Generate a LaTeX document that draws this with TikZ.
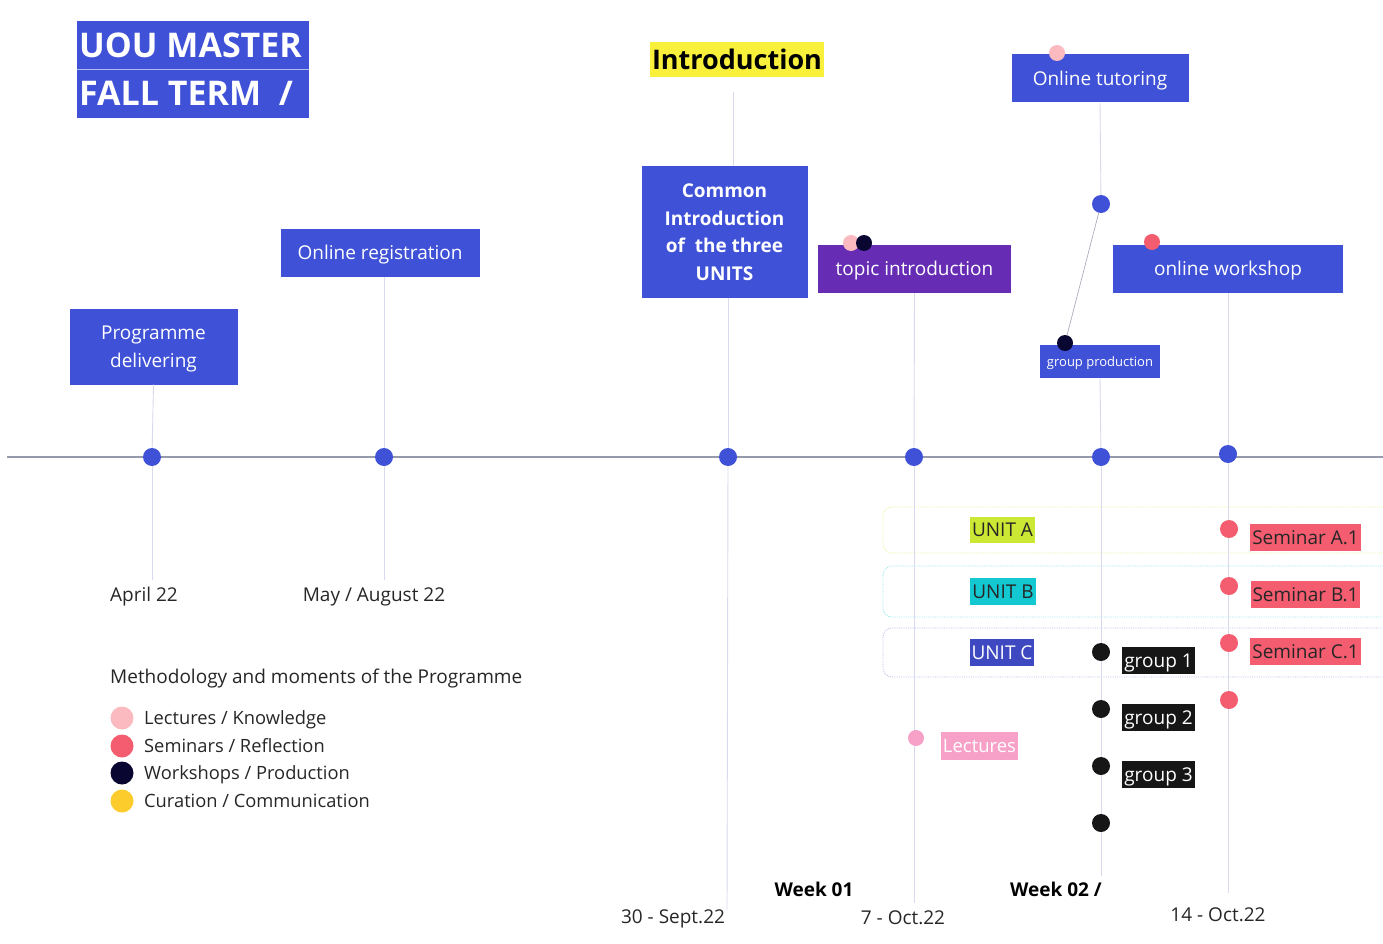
\documentclass[tikz,border=0pt]{standalone}
\usepackage{fontspec}
\setmainfont{Open Sans}
\definecolor{uoublue}{RGB}{63,81,214}
\definecolor{uoupurple}{RGB}{102,44,180}
\definecolor{introyellow}{RGB}{248,240,58}
\definecolor{axisgray}{RGB}{150,152,172}
\definecolor{vlinec}{RGB}{214,218,236}
\definecolor{lightpink}{RGB}{250,186,192}
\definecolor{semred}{RGB}{244,92,112}
\definecolor{navy}{RGB}{10,6,50}
\definecolor{curyellow}{RGB}{252,204,44}
\definecolor{lecpink}{RGB}{247,160,200}
\definecolor{unitAc}{RGB}{205,232,52}
\definecolor{unitBc}{RGB}{20,200,210}
\definecolor{unitCc}{RGB}{62,72,192}
\definecolor{darktext}{RGB}{38,38,38}
\definecolor{groupblack}{RGB}{22,22,22}
\begin{document}
\begin{tikzpicture}[x=1pt,y=-1pt,
  font=\fontsize{19}{23}\selectfont,
  ctext/.style={text height={0.95*#1 pt}, text depth={0.236*#1 pt}},
  ctext/.default=19,
  box/.style={fill=uoublue, text=white, inner sep=0pt, align=center},
  vline/.style={draw=vlinec, line width=0.9pt},
  dot/.style={circle, inner sep=0pt, minimum size=18pt},
  ldot/.style={circle, inner sep=0pt, minimum size=23pt},
  tag/.style={ctext, inner sep=2pt, minimum height=27pt},
  lbl/.style={ctext, text=darktext, inner sep=0pt},
  leg/.style={lbl, anchor=west, font=\fontsize{18.3}{22}\selectfont},
  unitbox/.style={rounded corners=9pt, densely dotted, line width=0.8pt}]
\useasboundingbox (0,0) rectangle (1383,944);

% title
\node[box, minimum width=232, minimum height=48] (title1) at (193,45) {};
\node[box, minimum width=232, minimum height=49] (title2) at (193,93.5) {};
\draw[draw=white!60!uoublue, line width=0.8pt] (title1.south west) -- (title1.south east);
\node[ctext=34, anchor=west, text=white, inner sep=0pt, font=\fontsize{34}{40}\bfseries] (t1) at (79,45) {UOU MASTER};
\node[ctext=34, anchor=west, text=white, inner sep=0pt, font=\fontsize{34}{40}\bfseries] (t2) at (79,93) {FALL TERM~~/};

% axis
\coordinate (axl) at (7,457);
\coordinate (axr) at (1383,457);
\draw[draw=axisgray, line width=1.2pt] (axl) -- (axr);

% unit bands
\draw[unitbox, draw=unitAc!50] (883,507) rectangle (1400,553);
\draw[unitbox, draw=unitBc!45] (883,566) rectangle (1400,617);
\draw[unitbox, draw=unitCc!35] (883,628) rectangle (1400,677);

% boxes
\node[box, minimum width=168, minimum height=76] (prog) at (153.5,346.5) {};
\node[box, fill=none, font=\fontsize{19}{28}\selectfont] (progt) at (153.5,349) {Programme\\delivering};
\node[box, ctext, minimum width=199, minimum height=48] (reg) at (380,253) {Online registration};
\node[ctext=27, fill=introyellow, inner sep=0pt, minimum width=174, minimum height=35, font=\fontsize{27}{30}\bfseries] (intro) at (737,59.5) {Introduction};
\node[box, minimum width=166, minimum height=131, font=\fontsize{19}{27.5}\bfseries] (common) at (724.5,232) {Common\\Introduction\\of~ the three\\UNITS};
\node[box, ctext, fill=uoupurple, minimum width=193, minimum height=48] (topic) at (914.5,269) {topic introduction};
\node[box, ctext, minimum width=177, minimum height=48] (tutor) at (1100,78.5) {Online tutoring};
\node[box, ctext, minimum width=230, minimum height=48] (work) at (1228,269) {online workshop};
\node[box, ctext=13, minimum width=120, minimum height=33, font=\fontsize{13}{15}\selectfont] (gprod) at (1100,361.5) {group production};

% axis dots
\node[dot, fill=uoublue] (d1) at (152,457) {};
\node[dot, fill=uoublue] (d2) at (384,457) {};
\node[dot, fill=uoublue] (d3) at (728,457) {};
\node[dot, fill=uoublue] (d4) at (914,457) {};
\node[dot, fill=uoublue] (d5) at (1101,457) {};
\node[dot, fill=uoublue] (d6) at (1228,454) {};
\node[dot, fill=uoublue] (dt) at (1101,204) {};

% free ends of vertical lines
\coordinate (e1) at (152,580);
\coordinate (e2) at (384,580);
\coordinate (e3) at (727,910);
\coordinate (e4) at (914,903);
\coordinate (e5) at (1101,876);
\coordinate (e6) at (1228,893);
\coordinate (i1) at (733,92);

% vertical lines
\draw[vline] (prog.south) -- (d1);
\draw[vline] (d1) -- (e1);
\draw[vline] (reg.south -| d2) -- (d2);
\draw[vline] (d2) -- (e2);
\draw[vline] (i1) -- (common.north -| i1);
\draw[vline] (common.south -| d3) -- (d3);
\draw[vline] (d3) -- (e3);
\draw[vline] (topic.south) -- (d4);
\draw[vline] (d4) -- (e4);
\draw[vline] (tutor.south) -- (dt);
\draw[vline] (gprod.south) -- (d5);
\draw[vline] (d5) -- (e5);
\draw[vline] (work.south) -- (d6);
\draw[vline] (d6) -- (e6);

% small dots on boxes
\node[dot, minimum size=16pt, fill=lightpink] (tp1) at (851,243) {};
\node[dot, minimum size=16pt, fill=navy] (tp2) at (864,243) {};
\node[dot, minimum size=16pt, fill=lightpink] (tup) at (1057,53) {};
\node[dot, minimum size=16pt, fill=semred] (wr) at (1152,242) {};
\node[dot, minimum size=16pt, fill=navy] (gpn) at (1065,343) {};
\draw[draw=axisgray!80, line width=0.7pt] (dt) -- (gpn);

% unit labels
\node[tag, fill=unitAc, text=darktext, minimum height=26pt] (ua) at (1002.5,530) {UNIT A};
\node[tag, fill=unitBc, text=darktext, minimum height=26pt] (ub) at (1003,591.5) {UNIT B};
\node[tag, fill=unitCc, text=white, minimum height=25pt] (uc) at (1002,652.5) {UNIT C};

% seminar dots and labels
\node[dot, fill=semred] (s1) at (1229,529) {};
\node[dot, fill=semred] (s2) at (1229,586) {};
\node[dot, fill=semred] (s3) at (1229,643) {};
\node[dot, fill=semred] (s4) at (1229,700) {};
\node[tag, fill=semred, text=darktext] (sa) at (1305.5,537.5) {Seminar A.1};
\node[tag, fill=semred, text=darktext] (sb) at (1305.5,594.5) {Seminar B.1};
\node[tag, fill=semred, text=darktext] (sc) at (1305.5,651.5) {Seminar C.1};

% group dots and labels
\node[dot, fill=groupblack] (g1) at (1101,652) {};
\node[dot, fill=groupblack] (g2) at (1101,709) {};
\node[dot, fill=groupblack] (g3) at (1101,766) {};
\node[dot, fill=groupblack] (g4) at (1101,823) {};
\node[tag, fill=groupblack, text=white] (gl1) at (1158.5,660.5) {group 1};
\node[tag, fill=groupblack, text=white] (gl2) at (1158.5,717.5) {group 2};
\node[tag, fill=groupblack, text=white] (gl3) at (1158.5,774.5) {group 3};

% lectures
\node[dot, minimum size=16pt, fill=lecpink] (lp) at (916,738) {};
\node[tag, fill=lecpink, text=white, minimum height=28pt, font=\fontsize{18.5}{22}\selectfont] (lec) at (979.5,746) {Lectures};

% dates
\node[lbl] (apr) at (144,595) {April 22};
\node[lbl] (may) at (374,595) {May / August 22};
\node[lbl] (sep) at (673,917) {30 - Sept.22};
\node[lbl] (oct7) at (903,918) {7 - Oct.22};
\node[lbl] (oct14) at (1218,915) {14 - Oct.22};
\node[lbl, font=\fontsize{19}{23}\bfseries, text=black] (w1) at (814,890) {Week 01};
\node[lbl, font=\fontsize{19}{23}\bfseries, text=black] (w2) at (1056,890) {Week 02 /};

% legend
\node[lbl, anchor=west] (legt) at (110,677) {Methodology and moments of the Programme};
\node[ldot, fill=lightpink] (l1) at (122,718) {};
\node[ldot, fill=semred] (l2) at (122,746) {};
\node[ldot, fill=navy] (l3) at (122,773) {};
\node[ldot, fill=curyellow] (l4) at (122,801) {};
\node[leg] (lt1) at (144,718) {Lectures / Knowledge};
\node[leg] (lt2) at (144,746) {Seminars / Reflection};
\node[leg] (lt3) at (144,773) {Workshops / Production};
\node[leg] (lt4) at (144,801) {Curation / Communication};
\end{tikzpicture}
\end{document}
